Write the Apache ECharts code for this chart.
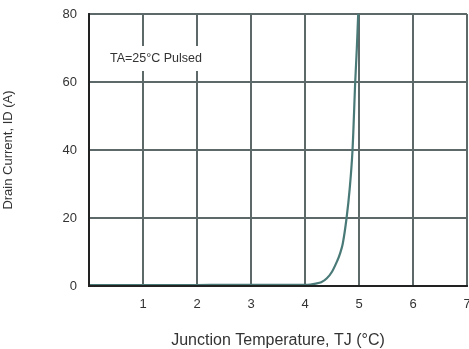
<!DOCTYPE html>
<html>
<head>
<meta charset="utf-8">
<script src="https://cdn.jsdelivr.net/npm/echarts@6/dist/echarts.min.js"></script>
<style>html,body{margin:0;padding:0;background:#fff;}#c{width:469px;height:349px;}</style>
</head>
<body>
<div id="c"></div>
<script>
var xValues = [0, 0.5, 1, 1.5, 2, 2.5, 3, 3.5, 4.0, 4.1, 4.2, 4.3, 4.4, 4.5, 4.6, 4.65, 4.7, 4.77, 4.83, 4.88, 4.93, 4.96, 4.985];
var drainCurrent = [0.3, 0.3, 0.3, 0.3, 0.3, 0.35, 0.35, 0.35, 0.35, 0.45, 0.7, 1.1, 2.2, 4.2, 7.5, 9.6, 12.5, 20, 29, 40, 60, 70, 80];
var xTicks = ['1', '2', '3', '4', '5', '6', '7'];
var yTicks = ['0', '20', '40', '60', '80'];
var annotation = 'TA=25°C Pulsed';
var xTitle = 'Junction Temperature, TJ (°C)';
var yTitle = 'Drain Current, ID (A)';

var chart = echarts.init(document.getElementById('c'), null, {renderer: 'canvas'});
var pts = xValues.map(function (x, i) { return [x, drainCurrent[i]]; });
var font = 'Liberation Sans, Arial, sans-serif';
var gridColor = '#5d6968';
var borderAxis = {show: true, lineStyle: {color: '#222', width: 2}};
chart.setOption({
  animation: false,
  backgroundColor: '#fff',
  grid: {left: 89, right: 2, top: 14, bottom: 63, show: false, containLabel: false, outerBoundsMode: 'none'},
  xAxis: [{
    type: 'value', min: 0, max: 7, interval: 1,
    axisLine: borderAxis,
    axisTick: {show: false},
    splitLine: {show: true, lineStyle: {color: gridColor, width: 2}},
    axisLabel: {color: '#333', fontSize: 13, fontFamily: font, margin: 12,
      formatter: function (v) { var s = String(v); return xTicks.indexOf(s) >= 0 ? s : ''; }},
    name: xTitle, nameLocation: 'middle', nameGap: 47,
    nameTextStyle: {color: '#333', fontSize: 16, fontFamily: font}
  }, {
    type: 'value', min: 0, max: 7, interval: 1, position: 'top', z: 10,
    axisLine: borderAxis, axisTick: {show: false}, axisLabel: {show: false}, splitLine: {show: false}
  }],
  yAxis: [{
    type: 'value', min: 0, max: 80, interval: 20,
    axisLine: borderAxis,
    axisTick: {show: false},
    splitLine: {show: true, lineStyle: {color: gridColor, width: 2}},
    axisLabel: {color: '#333', fontSize: 13, fontFamily: font, margin: 12,
      formatter: function (v) { var s = String(v); return yTicks.indexOf(s) >= 0 ? s : ''; }},
    name: yTitle, nameLocation: 'middle', nameGap: 74,
    nameTextStyle: {color: '#333', fontSize: 13, fontFamily: font}
  }, {
    type: 'value', min: 0, max: 80, interval: 20, position: 'right', z: 10,
    axisLine: borderAxis, axisTick: {show: false}, axisLabel: {show: false}, splitLine: {show: false}
  }],
  graphic: [{
    type: 'text', left: 105, top: 46, z: 100,
    style: {text: annotation, fill: '#333', font: '12.5px ' + font, backgroundColor: '#fff', padding: [6, 5, 6, 5]}
  }],
  series: [{
    type: 'line', data: pts, smooth: 0.3, symbol: 'none', clip: true,
    lineStyle: {color: '#4a7a78', width: 2.2}
  }]
});
</script>
</body>
</html>
